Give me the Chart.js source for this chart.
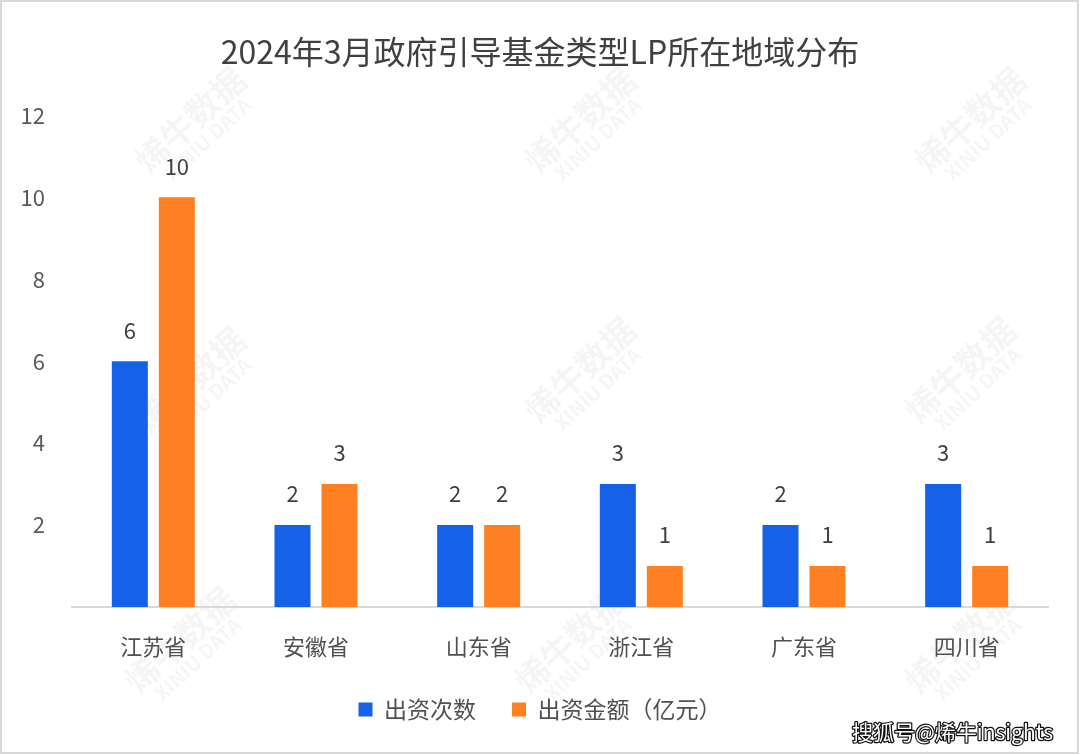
<!DOCTYPE html>
<html>
<head>
<meta charset="utf-8">
<script src="https://cdn.jsdelivr.net/npm/chart.js@4.4.0/dist/chart.umd.min.js"></script>
<style>
    html, body { margin: 0; padding: 0; background: #ffffff; }
    #wrap { width: 1080px; height: 755px; position: relative; }
</style>
</head>
<body>
<div id="wrap"><canvas id="barChart" width="1080" height="755"></canvas></div>
<script>
const regions = ["江苏省", "安徽省", "山东省", "浙江省", "广东省", "四川省"];
const investCount = [6, 2, 2, 3, 2, 3];
const investAmount = [10, 3, 2, 1, 1, 1];
const yTicks = [2, 4, 6, 8, 10, 12];

const FONT = "'Noto Sans CJK SC', 'Noto Sans', sans-serif";

// faint watermarks + frame + corner tag
const decorPlugin = {
    id: "decor",
    beforeDraw(chart) {
        const ctx = chart.ctx;
        ctx.save();
        ctx.fillStyle = "rgba(0,0,0,0.04)";
        const spots = [[190, 120], [580, 120], [970, 120], [190, 380], [580, 370], [960, 370], [180, 640], [570, 640], [960, 640]];
        spots.forEach(([x, y]) => {
            ctx.save();
            ctx.translate(x, y);
            ctx.rotate(-0.75);
            ctx.textAlign = "center";
            ctx.font = "bold 34px " + FONT;
            ctx.fillText("烯牛数据", 0, 0);
            ctx.font = "bold 20px " + FONT;
            ctx.fillText("XINIU DATA", 0, 26);
            ctx.restore();
        });
        ctx.restore();
    },
    afterDraw(chart) {
        const ctx = chart.ctx;
        ctx.save();
        ctx.strokeStyle = "#d9d9d9";
        ctx.lineWidth = 2;
        ctx.strokeRect(1, 1, 1077, 752);
        ctx.font = "21px " + FONT;
        ctx.textAlign = "left";
        ctx.textBaseline = "alphabetic";
        ctx.lineWidth = 2.5;
        ctx.lineJoin = "round";
        ctx.strokeStyle = "#111111";
        ctx.strokeText("搜狐号@烯牛insights", 852, 740);
        ctx.fillStyle = "#ffffff";
        ctx.fillText("搜狐号@烯牛insights", 852, 740);
        ctx.restore();
    }
};

// value labels above each bar
const valueLabels = {
    id: "valueLabels",
    afterDatasetsDraw(chart) {
        const ctx = chart.ctx;
        ctx.save();
        ctx.font = "22px " + FONT;
        ctx.fillStyle = "#404040";
        ctx.textAlign = "center";
        ctx.textBaseline = "middle";
        chart.data.datasets.forEach((ds, i) => {
            chart.getDatasetMeta(i).data.forEach((bar, j) => {
                ctx.fillText(String(ds.data[j]), bar.x, bar.y - 31);
            });
        });
        ctx.restore();
    }
};

const ctx = document.getElementById("barChart").getContext("2d");
new Chart(ctx, {
    type: "bar",
    data: {
        labels: regions,
        datasets: [
            {
                label: "出资次数",
                data: investCount,
                backgroundColor: "#1561E8",
                barPercentage: 0.766,
                categoryPercentage: 0.578
            },
            {
                label: "出资金额（亿元）",
                data: investAmount,
                backgroundColor: "#FF7F21",
                barPercentage: 0.766,
                categoryPercentage: 0.578
            }
        ]
    },
    options: {
        responsive: false,
        animation: false,
        layout: { padding: { left: 0, right: 0, top: 0, bottom: 24 } },
        plugins: {
            title: {
                display: true,
                text: "2024年3月政府引导基金类型LP所在地域分布",
                color: "#404040",
                font: { family: FONT, size: 32, weight: "normal" },
                padding: { top: 33, bottom: 44 }
            },
            legend: {
                position: "bottom",
                labels: {
                    color: "#505050",
                    font: { family: FONT, size: 23 },
                    boxWidth: 14,
                    boxHeight: 14,
                    padding: 36
                }
            },
            tooltip: { enabled: false }
        },
        scales: {
            x: {
                grid: { display: false, drawTicks: false },
                border: { display: true, color: "#d9d9d9", width: 2 },
                ticks: {
                    color: "#505050",
                    font: { family: FONT, size: 22 },
                    padding: 26
                },
                afterFit(scale) { scale.height = 55; }
            },
            y: {
                min: 0,
                max: 12,
                grid: { display: false, drawTicks: false },
                border: { display: false },
                ticks: {
                    stepSize: 2,
                    color: "#595959",
                    font: { family: FONT, size: 22 },
                    padding: 27,
                    callback: (v) => (yTicks.includes(v) ? v : "")
                },
                afterFit(scale) { scale.width = 72; }
            },
            // empty right gutter so title and legend centre on the page
            yRight: {
                position: "right",
                min: 0,
                max: 12,
                grid: { display: false, drawTicks: false },
                border: { display: false },
                ticks: { display: false },
                afterFit(scale) { scale.width = 32; }
            }
        }
    },
    plugins: [decorPlugin, valueLabels]
});
</script>
</body>
</html>
